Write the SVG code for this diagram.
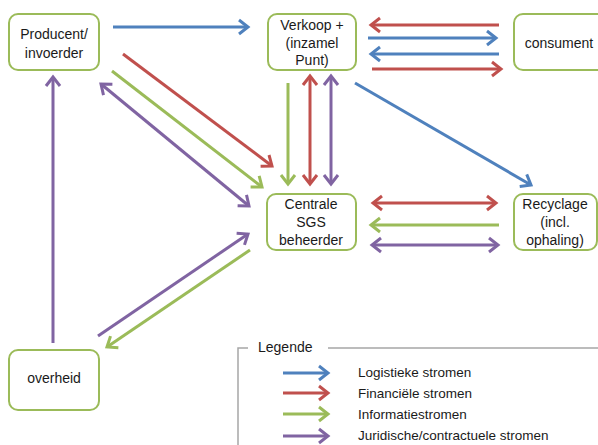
<svg xmlns="http://www.w3.org/2000/svg" width="598" height="445" viewBox="0 0 598 445">
<defs>
<marker id="mb" markerUnits="userSpaceOnUse" viewBox="-14 -10 18 20" markerWidth="18" markerHeight="20" refX="0" refY="0" orient="auto-start-reverse"><path d="M-9,-7 L0,0 L-9,7" fill="none" stroke="#4F81BD" stroke-width="3"/></marker>
<marker id="mr" markerUnits="userSpaceOnUse" viewBox="-14 -10 18 20" markerWidth="18" markerHeight="20" refX="0" refY="0" orient="auto-start-reverse"><path d="M-9,-7 L0,0 L-9,7" fill="none" stroke="#C0504D" stroke-width="3"/></marker>
<marker id="mg" markerUnits="userSpaceOnUse" viewBox="-14 -10 18 20" markerWidth="18" markerHeight="20" refX="0" refY="0" orient="auto-start-reverse"><path d="M-9,-7 L0,0 L-9,7" fill="none" stroke="#9BBB59" stroke-width="3"/></marker>
<marker id="mp" markerUnits="userSpaceOnUse" viewBox="-14 -10 18 20" markerWidth="18" markerHeight="20" refX="0" refY="0" orient="auto-start-reverse"><path d="M-9,-7 L0,0 L-9,7" fill="none" stroke="#8064A2" stroke-width="3"/></marker>
</defs>
<style>
.node rect{fill:#fff;stroke:#9BBB59;stroke-width:2}
text{font-family:"Liberation Sans",Arial,sans-serif;font-size:14px;fill:#1a1a1a;text-anchor:middle}
.c{fill:none;stroke-width:3}
.b{stroke:#4F81BD}.r{stroke:#C0504D}.g{stroke:#9BBB59}.p{stroke:#8064A2}
.eb{marker-end:url(#mb)}.er{marker-end:url(#mr)}.eg{marker-end:url(#mg)}.ep{marker-end:url(#mp)}
.sr{marker-start:url(#mr)}.sp{marker-start:url(#mp)}
.leg text{text-anchor:start;font-size:13.5px}
</style>
<rect width="598" height="445" fill="#fff"/>
<g id="connectors">
<path class="c b eb" d="M113,27 L248,27"/>
<path class="c r er" d="M499,25 L371,25"/>
<path class="c b eb" d="M368,38 L496,38"/>
<path class="c b eb" d="M499,54 L371,54"/>
<path class="c r er" d="M372,69 L501,69"/>
<path class="c r er" d="M123,54 L272,166"/>
<path class="c g eg" d="M112,71 L262,187"/>
<path class="c p ep sp" d="M101,84 L249,206"/>
<path class="c g eg" d="M288,83 L288,184"/>
<path class="c r er sr" d="M310,76 L310,184"/>
<path class="c p ep sp" d="M331,76 L331,184"/>
<path class="c b eb" d="M355,83 L531,185"/>
<path class="c r er sr" d="M373,203 L496,203"/>
<path class="c g eg" d="M499,225 L371,225"/>
<path class="c p ep sp" d="M372,245 L498,245"/>
<path class="c p ep" d="M53,343 L53,77"/>
<path class="c p ep" d="M98,336 L248,234"/>
<path class="c g eg" d="M250,250 L107,347"/>
</g>
<g id="producent" class="node"><rect x="9" y="14" width="90" height="56" rx="9"/><text x="54" y="39">Producent/</text><text x="54" y="58">invoerder</text></g>
<g id="verkoop" class="node"><rect x="268" y="14" width="88" height="56" rx="9"/><text x="312" y="30">Verkoop +</text><text x="312" y="47.5">(inzamel</text><text x="312" y="65">Punt)</text></g>
<g id="consument" class="node"><rect x="514" y="14" width="92" height="56" rx="9"/><text x="559" y="48">consument</text></g>
<g id="centrale" class="node"><rect x="267" y="194" width="89" height="56" rx="9"/><text x="311" y="209">Centrale</text><text x="311" y="227">SGS</text><text x="311" y="245">beheerder</text></g>
<g id="recyclage" class="node"><rect x="514" y="194" width="83" height="56" rx="9"/><text x="555" y="209">Recyclage</text><text x="555" y="227">(incl.</text><text x="555" y="245">ophaling)</text></g>
<g id="overheid" class="node"><rect x="9" y="350" width="90" height="60" rx="9"/><text x="54" y="383">overheid</text></g>
<g id="legende" class="leg">
<path d="M238,445 L238,348 L248,348 M328,348 L598,348" fill="none" stroke="#A6A6A6" stroke-width="1.5"/>
<text x="258" y="352" style="font-size:14px">Legende</text>
<path class="c b eb" d="M283,373 L328,373"/>
<path class="c r er" d="M283,393 L328,393"/>
<path class="c g eg" d="M283,414 L328,414"/>
<path class="c p ep" d="M283,436 L328,436"/>
<text x="358" y="377">Logistieke stromen</text>
<text x="358" y="398">Financiële stromen</text>
<text x="358" y="419">Informatiestromen</text>
<text x="358" y="440">Juridische/contractuele stromen</text>
</g>
</svg>
